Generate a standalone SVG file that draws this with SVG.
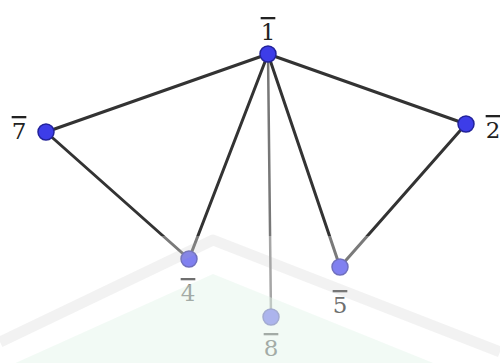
<svg xmlns="http://www.w3.org/2000/svg" width="500" height="363" viewBox="0 0 500 363">
<style>
.e{stroke:#333;stroke-width:3;stroke-linecap:round}
.n{fill:#3d3de8;stroke:#22229a;stroke-width:1.5}
.t{font-family:"DejaVu Serif","Liberation Serif",serif;font-size:23px;fill:#222;text-anchor:middle;text-decoration:overline}
</style>
<rect width="500" height="363" fill="#fff"/>
<g id="connectors">
<line class="e" x1="268" y1="54" x2="46" y2="132"/>
<line class="e" x1="268" y1="54" x2="466" y2="124"/>
<line class="e" x1="268" y1="54" x2="189" y2="259"/>
<line class="e" x1="268" y1="54" x2="340" y2="267"/>
<line class="e" x1="268" y1="54" x2="271" y2="317" style="stroke:#777;stroke-width:2.5"/>
<line class="e" x1="46" y1="132" x2="189" y2="259"/>
<line class="e" x1="466" y1="124" x2="340" y2="267"/>
</g>
<g id="n1"><circle class="n" cx="268" cy="54" r="8"/><text class="t" x="268" y="40">1</text></g>
<g id="n7"><circle class="n" cx="46" cy="132" r="8"/><text class="t" x="19" y="139">7</text></g>
<g id="n2"><circle class="n" cx="466" cy="124" r="8"/><text class="t" x="493" y="138">2</text></g>
<g id="n4"><circle class="n" cx="189" cy="259" r="8"/><text class="t" x="188" y="301">4</text></g>
<g id="n5"><circle class="n" cx="340" cy="267" r="8"/><text class="t" x="340" y="313">5</text></g>
<g id="n8"><circle class="n" cx="271" cy="317" r="8"/><text class="t" x="271" y="356">8</text></g>
<g id="watermark">
<rect x="0" y="236" width="500" height="127" fill="#fff" opacity="0.35"/>
<path d="M0,370 L213,274 L500,390 Z" fill="#e3f3e8" opacity="0.45"/>
<polyline points="0,342 213,240 500,352" fill="none" stroke="#aaa" stroke-width="11" opacity="0.15" stroke-linejoin="round"/>
</g>
</svg>
